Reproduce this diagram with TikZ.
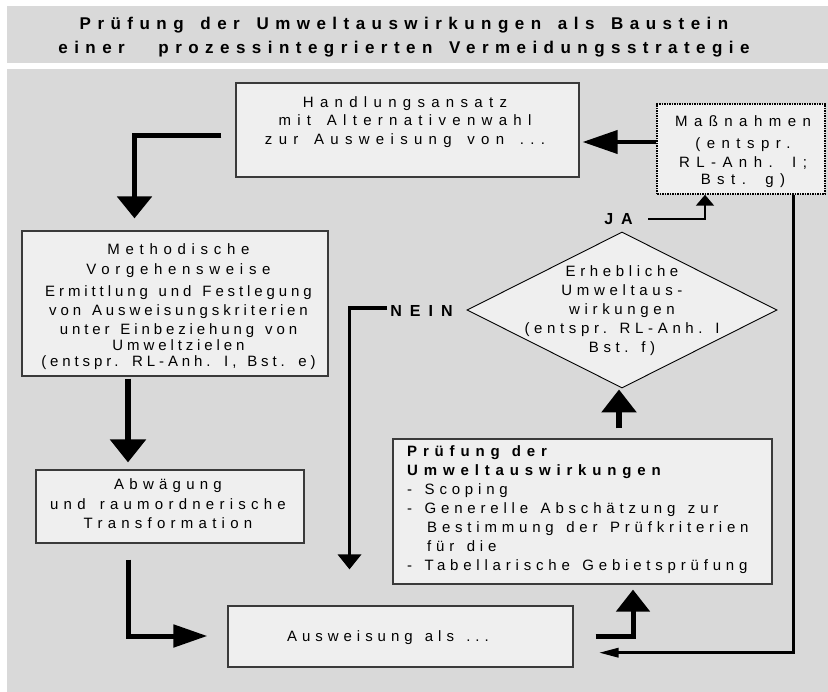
\documentclass[tikz,border=0pt]{standalone}
\usepackage{fontspec}
\setmainfont{Liberation Sans}
\newfontfamily\fTitle{Liberation Sans}[LetterSpace=38,WordSpace=1.8]
\newfontfamily\fHand{Liberation Sans}[LetterSpace=42,WordSpace=1.5]
\newfontfamily\fMassn{Liberation Sans}[LetterSpace=43,WordSpace=1.5]
\newfontfamily\fMethA{Liberation Sans}[LetterSpace=38,WordSpace=1.5]
\newfontfamily\fMethB{Liberation Sans}[LetterSpace=26,WordSpace=1.35]
\newfontfamily\fAbw{Liberation Sans}[LetterSpace=35,WordSpace=1.5]
\newfontfamily\fAusw{Liberation Sans}[LetterSpace=33,WordSpace=1.35]
\newfontfamily\fDia{Liberation Sans}[LetterSpace=31,WordSpace=1.1]
\newfontfamily\fPruef{Liberation Sans}[LetterSpace=32,WordSpace=1.4]
\newfontfamily\fPruefB{Liberation Sans}[LetterSpace=39,WordSpace=1.2]
\newfontfamily\fLab{Liberation Sans}[LetterSpace=50]
\usetikzlibrary{shapes.geometric,arrows.meta,calc}
\definecolor{bggray}{HTML}{D9D9D9}
\definecolor{boxfill}{HTML}{EFEFEF}
\definecolor{boxline}{HTML}{3A3A3A}
\tikzset{
  box/.style={draw=boxline, line width=1.2pt, fill=boxfill, inner sep=0pt},
  dotbox/.style={draw=black, line width=1.5pt, dash pattern=on 1.5pt off 1pt, fill=boxfill, inner sep=0pt},
  diabox/.style={diamond, draw=black, line width=0.9pt, fill=boxfill, inner sep=0pt},
  txt/.style={inner sep=0pt, align=center, anchor=north},
  conn/.style={draw=black, line join=miter},
}
\begin{document}
\begin{tikzpicture}[x=1pt,y=-1pt]
\useasboundingbox (0,0) rectangle (828,692);
\fill[bggray] (7,6) rectangle (828,63);
\fill[bggray] (7,69) rectangle (828,692);

% title
\node[txt, font=\fontsize{17}{24}\selectfont\fTitle\bfseries] (title) at (404,17)
  {Prüfung der Umweltauswirkungen als Baustein\\einer\ \ prozessintegrierten Vermeidungsstrategie};

% boxes
\node[box, minimum width=343pt, minimum height=94pt] (hand) at (407.5,130) {};
\node[dotbox, minimum width=168pt, minimum height=90pt] (massn) at (741,149) {};
\node[box, minimum width=306pt, minimum height=145pt] (meth) at (175,303.5) {};
\node[box, minimum width=268pt, minimum height=73pt] (abw) at (170,506.5) {};
\node[box, minimum width=345pt, minimum height=61pt] (ausw) at (400.5,636.5) {};
\node[box, minimum width=379pt, minimum height=145pt] (pruef) at (582.5,511.5) {};
\node[diabox, minimum width=310pt, minimum height=156pt] (dia) at (622,310) {};

% texts
\node[txt, font=\fontsize{15}{18.5}\selectfont\fHand] (handT) at (405,96)
  {Handlungsansatz\\mit Alternativenwahl\\zur Ausweisung von ...};
\node[txt, font=\fontsize{15}{19}\selectfont\fMassn] (massnT) at (743,115.5)
  {Maßnahmen\\[3pt](entspr.\\RL-Anh. I;\\[-2pt]Bst. g)};
\node[txt, font=\fontsize{15}{18}\selectfont] (methT) at (178.5,243)
  {{\fMethA Methodische}\\[2pt]{\fMethA Vorgehensweise}\\[4pt]{\fMethB Ermittlung und Festlegung}\\[1.7pt]{\fMethB von Ausweisungskriterien}\\[0.6pt]{\fMethB unter Einbeziehung von}\\[-2pt]{\fMethB Umweltzielen}\\[-2.3pt]{\fMethB (entspr. RL-Anh. I, Bst. e)}};
\node[txt, font=\fontsize{15}{19.5}\selectfont\fAbw] (abwT) at (168,478.8)
  {Abwägung\\und raumordnerische\\Transformation};
\node[inner sep=0pt, anchor=base, font=\fontsize{15}{18}\selectfont\fAusw] (auswT) at (388,641.5)
  {Ausweisung als ...};
\node[txt, font=\fontsize{15}{18.9}\selectfont\fDia] (diaT) at (622,265.7)
  {Erhebliche\\Umweltaus-\\wirkungen\\(entspr. RL-Anh. I\\Bst. f)};
\node[inner sep=0pt, align=left, anchor=north west, font=\fontsize{15}{19}\selectfont] (pruefT) at (407,445.5)
  {{\fPruefB\bfseries Prüfung der}\\{\fPruefB\bfseries Umweltauswirkungen}\\{\fPruef - Scoping}\\{\fPruef - Generelle Abschätzung zur}\\{\fPruef\hspace*{20pt}Bestimmung der Prüfkriterien}\\{\fPruef\hspace*{20pt}für die}\\{\fPruef - Tabellarische Gebietsprüfung}};
\node[inner sep=0pt, anchor=base, font=\fontsize{16}{18}\selectfont\fLab\bfseries] (ja) at (618.5,225) {JA};
\node[inner sep=0pt, anchor=base, font=\fontsize{16}{18}\selectfont\fLab\bfseries] (nein) at (421.5,316.5) {NEIN};

% connectors
\draw[conn, line width=4pt, -{Triangle[length=35pt,width=23pt]}]
  ($(massn.west)+(0,-7)$) -- ($(hand.east)+(3,12)$);
\draw[conn, line width=5.5pt, -{Triangle[length=22pt,width=34pt]}]
  ($(hand.west)+(-14,5.5)$) -| ($(meth.north)+(-40.5,-12)$);
\draw[conn, line width=5.7pt, -{Triangle[length=23pt,width=35pt]}]
  ($(meth.south)+(-47,2)$) -- ($(abw.north)+(-42,-7)$);
\draw[conn, line width=5pt, -{Triangle[length=34pt,width=22pt]}]
  ($(abw.south)+(-42,16)$) |- ($(ausw.west)+(-20,-0.5)$);
\draw[conn, line width=5pt, -{Triangle[length=22pt,width=33pt]}]
  ($(ausw.east)+(22,-0.5)$) -| ($(pruef.south)+(50.5,5)$);
\draw[conn, line width=6pt, -{Triangle[length=23pt,width=34pt]}]
  ($(pruef.north)+(36.5,-10)$) -- ($(dia.south)+(-3,1)$);
\draw[conn, line width=2pt, -{Triangle[length=11pt,width=18pt]}]
  ($(ja.base)+(29.5,-6)$) -| ($(massn.south)+(-36,0)$);
\draw[conn, line width=3.7pt, -{Triangle[length=15pt,width=23pt]}]
  ($(nein.base)+(-34.5,-8.5)$) -| ($(ausw.north)+(-51,-36)$);
\draw[conn, line width=3.3pt, -{Triangle[length=20pt,width=9pt]}]
  ($(massn.south)+(52.3,0)$) |- ($(ausw.east)+(25,16.2)$);
\end{tikzpicture}
\end{document}
